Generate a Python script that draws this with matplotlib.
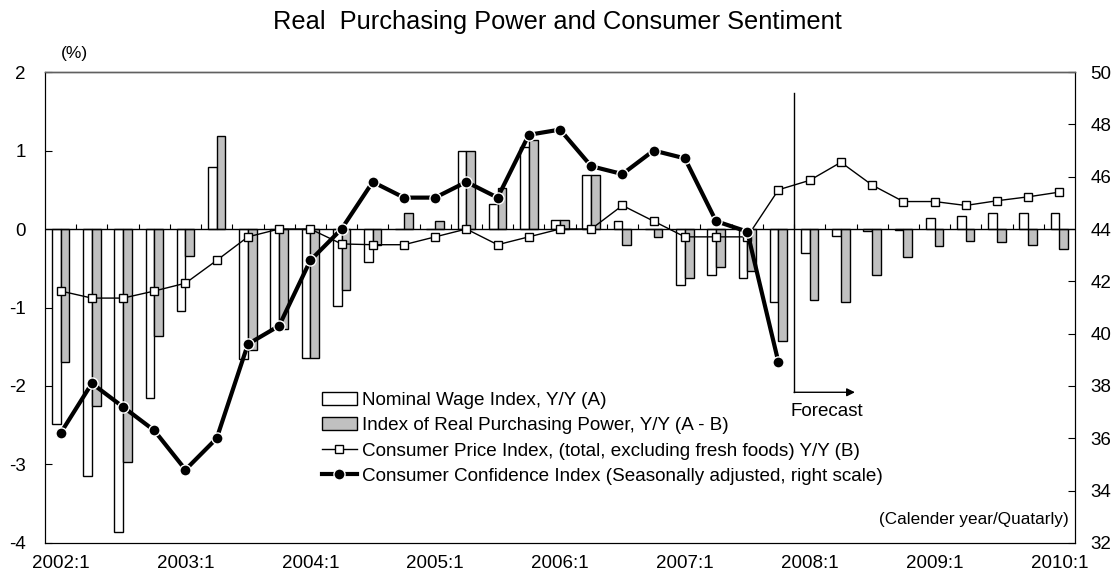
import numpy as np
import matplotlib.pyplot as plt

plt.rcParams['font.family'] = ['Liberation Sans', 'DejaVu Sans']
plt.rcParams['axes.unicode_minus'] = False

# quarterly, 2002:1 .. 2010:1
year_labels = ["2002:1", "2003:1", "2004:1", "2005:1", "2006:1",
               "2007:1", "2008:1", "2009:1", "2010:1"]

nominal_wage = [-2.48, -3.15, -3.86, -2.15, -1.04, 0.79, -1.65, -1.27,
                -1.64, -0.98, -0.42, 0.0, 0.0, 0.99, 0.32, 1.05,
                0.11, 0.69, 0.10, 0.0, -0.71, -0.59, -0.63, -0.93,
                -0.30, -0.09, -0.03, -0.01, 0.14, 0.17, 0.21, 0.21, 0.21]

real_power = [-1.70, -2.26, -2.97, -1.36, -0.35, 1.19, -1.54, -1.27,
              -1.64, -0.78, -0.20, 0.20, 0.10, 0.99, 0.52, 1.13,
              0.11, 0.69, -0.20, -0.10, -0.62, -0.48, -0.53, -1.43,
              -0.91, -0.93, -0.59, -0.36, -0.22, -0.15, -0.16, -0.20, -0.26]

cpi = [-0.79, -0.88, -0.88, -0.79, -0.69, -0.40, -0.10, 0.0,
       0.0, -0.19, -0.20, -0.20, -0.10, 0.0, -0.20, -0.10,
       0.0, 0.0, 0.30, 0.10, -0.10, -0.10, -0.10, 0.50,
       0.62, 0.85, 0.56, 0.35, 0.35, 0.30, 0.36, 0.41, 0.47]

confidence = [36.2, 38.1, 37.2, 36.3, 34.8, 36.0, 39.6, 40.3,
              42.8, 44.0, 45.8, 45.2, 45.2, 45.8, 45.2, 47.6,
              47.8, 46.4, 46.1, 47.0, 46.7, 44.3, 43.9, 38.9]

forecast_start = 24  # 2008:1

n = len(nominal_wage)
x = np.arange(n)
conf = np.full(n, np.nan)
conf[:len(confidence)] = confidence

fig = plt.figure(figsize=(11.15, 5.79), dpi=100)
ax = fig.add_axes([0.0404, 0.0622, 0.9237, 0.8134])
ax2 = ax.twinx()

w = 0.28
b1 = ax.bar(x - w / 2, nominal_wage, w, color='white', edgecolor='black',
            linewidth=1, label='Nominal Wage Index, Y/Y (A)', zorder=2)
b2 = ax.bar(x + w / 2, real_power, w, color='#c0c0c0', edgecolor='black',
            linewidth=1, label='Index of Real Purchasing Power, Y/Y (A - B)', zorder=2)
l1, = ax.plot(x, cpi, color='black', lw=1, marker='s', ms=6, mfc='white',
              mec='black', mew=1,
              label='Consumer Price Index, (total, excluding fresh foods) Y/Y (B)',
              zorder=3)
l2, = ax2.plot(x, conf, color='black', lw=3, marker='o', ms=8, mfc='black',
               mec='white', mew=1,
               label='Consumer Confidence Index (Seasonally adjusted, right scale)',
               zorder=3)

# zero line with category separators
ax.axhline(0, color='black', lw=1, zorder=2.5)
ax.vlines(x[:-1] + 0.5, 0, 0.07, color='black', lw=0.8, zorder=2.5)

ax.set_xlim(-0.5, n - 0.5)
ax.set_ylim(-4, 2)
ax2.set_ylim(32, 50)
ax.set_yticks(range(-4, 3))
ax2.set_yticks(range(32, 51, 2))
ax.set_xticks(x[::4])
ax.set_xticklabels(year_labels)

ax.tick_params(axis='x', length=0, pad=9, labelsize=13.5)
ax.tick_params(axis='y', direction='in', length=5, pad=14, labelsize=13.5)
ax2.tick_params(axis='y', direction='in', length=5, pad=11, labelsize=13.5)
for a in (ax, ax2):
    a.spines['top'].set_color('#606060')
    a.spines['top'].set_linewidth(1)

# forecast marker
fx = forecast_start - 0.5
ax.plot([fx, fx], [1.73, -2.08], color='black', lw=1, zorder=2)
ax.annotate('', xy=(fx + 1.95, -2.08), xytext=(fx, -2.08),
            arrowprops=dict(arrowstyle='-|>', color='black', lw=1,
                            shrinkA=0, shrinkB=0, mutation_scale=12))
ax.text(fx + 1.05, -2.32, 'Forecast', ha='center', va='center', fontsize=13.5)

ax2.legend(handles=[b1, b2, l1, l2], loc='upper left',
           bbox_to_anchor=(0.2686, 0.321), frameon=False, fontsize=13.6,
           borderpad=0, borderaxespad=0, handlelength=1.85,
           handletextpad=0.3, labelspacing=0.43)

fig.text(0.5, 0.962, 'Real  Purchasing Power and Consumer Sentiment',
         ha='center', va='center', fontsize=18.3)
fig.text(0.067, 0.908, '(%)', ha='center', va='center', fontsize=12.5)
ax.text(0.9935, 0.05, '(Calender year/Quatarly)', transform=ax.transAxes,
        ha='right', va='center', fontsize=12.3)

fig.savefig('out.png', dpi=100)
